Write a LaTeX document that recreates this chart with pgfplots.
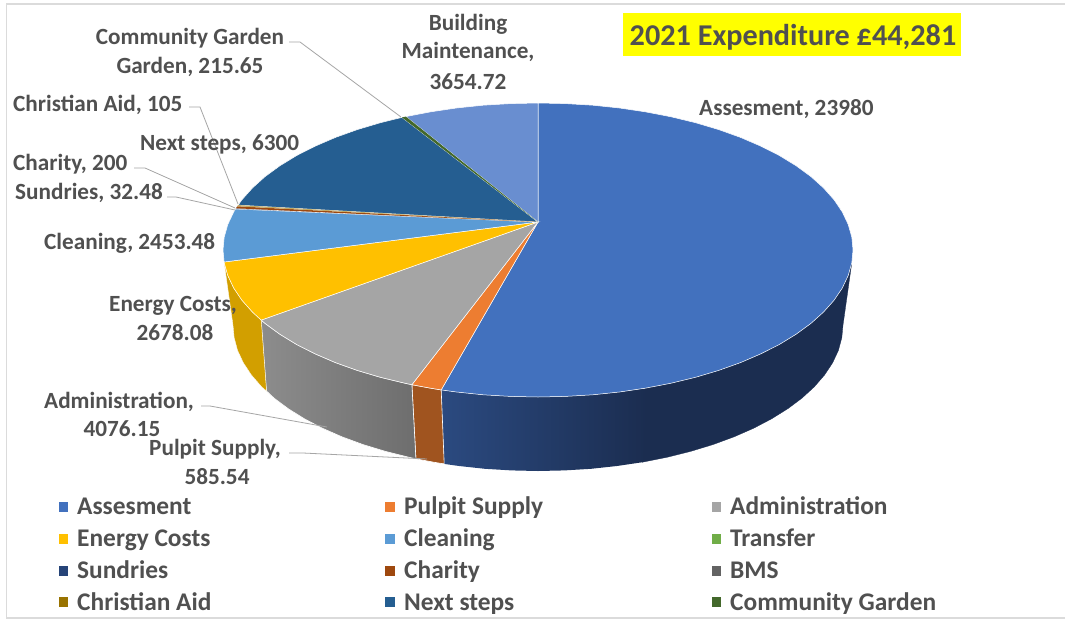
\documentclass[border=0pt]{standalone}
\usepackage{pgfplots}
\pgfplotsset{compat=1.18}
\usepackage{fontspec}
\setmainfont{Carlito}[BoldFont=Carlito Bold]
\definecolor{cA}{HTML}{4271BE}
\definecolor{cP}{HTML}{ED7D31}
\definecolor{cM}{HTML}{A5A5A5}
\definecolor{cE}{HTML}{FFC000}
\definecolor{cC}{HTML}{5B9BD5}
\definecolor{cT}{HTML}{70AD47}
\definecolor{cS}{HTML}{264478}
\definecolor{cH}{HTML}{9E480E}
\definecolor{cB}{HTML}{636363}
\definecolor{cX}{HTML}{997300}
\definecolor{cN}{HTML}{255E91}
\definecolor{cG}{HTML}{43682B}
\definecolor{cU}{HTML}{698ED0}
\definecolor{sL}{HTML}{2B4A80}
\definecolor{sD}{HTML}{1B2D50}
\definecolor{sP}{HTML}{A0541F}
\definecolor{sE}{HTML}{D29F00}
\definecolor{ybox}{HTML}{FFFF00}
\definecolor{txt}{HTML}{505050}
\definecolor{lead}{HTML}{A6A6A6}
\newcommand{\lab}[3]{\node[anchor=base west,inner sep=0pt,text=txt,font=\fontsize{23.2}{27}\selectfont\bfseries] at (axis cs:#1,#2) {#3};}
\newcommand{\clab}[3]{\node[anchor=base,inner sep=0pt,text=txt,font=\fontsize{23.2}{27}\selectfont\bfseries] at (axis cs:#1,#2) {#3};}
\newcommand{\leg}[3]{\node[anchor=base west,inner sep=0pt,text=txt,font=\fontsize{25.4}{29}\selectfont\bfseries] at (axis cs:#1,#2) {#3};}
\begin{document}
\begin{tikzpicture}
\begin{axis}[scale only axis,width=1065pt,height=619pt,xmin=0,xmax=1065,ymin=0,ymax=619,y dir=reverse,hide axis,no markers,clip=true]
% background and frame
\addplot[fill=white,draw=none] coordinates {(0,0)(1065,0)(1065,619)(0,619)} --cycle;
\addplot[draw=black!14,line width=1.5pt] coordinates {(1065,4)(6.5,4)(6.5,618)(1065,618)};
% side faces
\addplot[fill=sD,draw=sD,line width=.3pt] coordinates {(851.8,262.8)(848.2,275.5)(842.3,288)(834,300.3)(823.5,312.1)(810.8,323.5)(796,334.3)(779.3,344.5)(760.7,353.9)(740.5,362.6)(718.7,370.4)(695.5,377.3)(671.1,383.2)(645.7,388.1)(642.3,462.2)(666.9,457.3)(690.5,451.4)(712.9,444.6)(734.1,436.8)(753.7,428.2)(771.6,418.8)(787.8,408.7)(802.1,398)(814.4,386.7)(824.6,374.9)(832.6,362.8)(838.4,350.4)(841.8,337.7)(843,325)} --cycle;
\addplot[draw=none,left color=sL,right color=sD] coordinates {(646.5,388.1)(619.5,392)(592.7,394.8)(565.5,396.4)(538,397)(510.5,396.4)(483.3,394.8)(456.5,392)(441.2,389.9)(444.2,463.9)(459.1,466)(485,468.8)(511.4,470.4)(538,471)(564.6,470.4)(591,468.8)(616.9,466)(643.2,462.1)} --cycle;
\addplot[fill=sP,draw=white,line width=.6pt] coordinates {(441.2,389.9)(430.3,388.1)(411.9,384.7)(415.9,458.8)(433.7,462.2)(444.2,463.9)} --cycle;
\addplot[draw=white,line width=.6pt,left color=black!45,right color=black!57] coordinates {(411.9,384.7)(404.9,383.2)(380.5,377.3)(357.3,370.4)(335.5,362.6)(315.3,353.9)(296.7,344.5)(280,334.3)(265.2,323.5)(261.2,320.1)(266.5,391)(273.9,398)(288.2,408.7)(304.4,418.8)(322.3,428.2)(341.9,436.8)(363.1,444.6)(385.5,451.4)(409.1,457.3)(415.9,458.8)} --cycle;
\addplot[fill=sE,draw=white,line width=.3pt] coordinates {(261.2,320.1)(252.5,312.1)(242,300.3)(233.7,288)(227.8,275.5)(224.2,262.8)(233,325)(234.2,337.7)(237.6,350.4)(243.4,362.8)(251.4,374.9)(261.6,386.7)(266.5,391)} --cycle;
% top faces
\addplot[fill=cA,draw=white,line width=.5pt] coordinates {(538,222)(538,103)(565.5,103.6)(592.7,105.2)(619.5,108)(645.7,111.9)(671.1,116.8)(695.5,122.7)(718.7,129.6)(740.5,137.4)(760.7,146.1)(779.3,155.5)(796,165.7)(810.8,176.5)(823.5,187.9)(834,199.7)(842.3,212)(848.2,224.5)(851.8,237.2)(853,250)(851.8,262.8)(848.2,275.5)(842.3,288)(834,300.3)(823.5,312.1)(810.8,323.5)(796,334.3)(779.3,344.5)(760.7,353.9)(740.5,362.6)(718.7,370.4)(695.5,377.3)(671.1,383.2)(645.7,388.1)(619.5,392)(592.7,394.8)(565.5,396.4)(538,397)(510.5,396.4)(483.3,394.8)(456.5,392)(441.2,389.9)} --cycle;
\addplot[fill=cP,draw=white,line width=.5pt] coordinates {(538,222)(441.2,389.9)(430.3,388.1)(411.9,384.7)} --cycle;
\addplot[fill=cM,draw=white,line width=.5pt] coordinates {(538,222)(411.9,384.7)(404.9,383.2)(380.5,377.3)(357.3,370.4)(335.5,362.6)(315.3,353.9)(296.7,344.5)(280,334.3)(265.2,323.5)(261.2,320.1)} --cycle;
\addplot[fill=cE,draw=white,line width=.5pt] coordinates {(538,222)(261.2,320.1)(252.5,312.1)(242,300.3)(233.7,288)(227.8,275.5)(224.2,262.8)(224.1,262)} --cycle;
\addplot[fill=cC,draw=white,line width=.5pt] coordinates {(538,222)(224.1,262)(223,250)(224.2,237.2)(227.8,224.5)(233.7,212)(235.5,209)} --cycle;
\addplot[fill=cS,draw=white,line width=.2pt] coordinates {(538,222)(235.5,209)(236,208.3)} --cycle;
\addplot[fill=cN,draw=white,line width=.5pt] coordinates {(538,222)(238.1,205.1)(242,199.7)(252.5,187.9)(265.2,176.5)(280,165.7)(296.7,155.5)(315.3,146.1)(335.5,137.4)(357.3,129.6)(380.5,122.7)(401.9,117.4)} --cycle;
\addplot[fill=cH,draw=none] coordinates {(538,222)(236,208.3)(237.2,206.3)} --cycle;
\addplot[fill=cX!60!white,draw=none] coordinates {(538,222)(237.2,206.3)(238.1,205.1)} --cycle;
\addplot[fill=cU,draw=white,line width=.5pt] coordinates {(538,222)(405.9,116.6)(430.3,111.9)(456.5,108)(483.3,105.2)(510.5,103.6)(538,103)} --cycle;
\addplot[fill=cG,draw=none] coordinates {(538,222)(401.9,117.4)(404.9,116.8)(405.9,116.6)} --cycle;
% leader lines
\addplot[draw=lead,line width=.8pt] coordinates {(289,42)(300,42)(401,117)};
\addplot[draw=lead,line width=.8pt] coordinates {(189,107)(200,107)(238,204)};
\addplot[draw=lead,line width=.8pt] coordinates {(134,168)(145,168)(235,208)};
\addplot[draw=lead,line width=.8pt] coordinates {(167,197)(176,197)(235,210)};
\addplot[draw=lead,line width=.8pt] coordinates {(201,406)(210,406)(327,427)};
\addplot[draw=lead,line width=.8pt] coordinates {(289,453)(303,453)(427,459)};
% title box
\addplot[fill=ybox,draw=none] coordinates {(623,13)(960.5,13)(960.5,56)(623,56)} --cycle;
\node[anchor=base,inner sep=0pt,text=txt,font=\fontsize{30.2}{35}\selectfont\bfseries] at (axis cs:793,45) {2021 Expenditure £44,281};
% data labels
\clab{468}{30}{Building}
\clab{468}{58}{Maintenance,}
\clab{468}{89}{3654.72}
\clab{190}{44}{Community Garden}
\clab{190}{73}{Garden, 215.65}
\lab{13}{111}{Christian Aid, 105}
\lab{140}{150}{Next steps, 6300}
\lab{13}{170}{Charity, 200}
\lab{15}{199}{Sundries, 32.48}
\lab{44}{249}{Cleaning, 2453.48}
\lab{109}{311}{Energy Costs,}
\clab{175}{340}{2678.08}
\lab{44}{408}{Administration,}
\clab{122}{436}{4076.15}
\lab{149}{455}{Pulpit Supply,}
\clab{217}{484}{585.54}
\lab{699}{115}{Assesment, 23980}
% legend keys
\addplot[fill=cA,draw=none] coordinates {(59,502)(68,502)(68,512)(59,512)} --cycle;
\addplot[fill=cP,draw=none] coordinates {(385,502)(395,502)(395,512)(385,512)} --cycle;
\addplot[fill=cM,draw=none] coordinates {(712,502)(721,502)(721,512)(712,512)} --cycle;
\addplot[fill=cE,draw=none] coordinates {(59,534)(68,534)(68,544)(59,544)} --cycle;
\addplot[fill=cC,draw=none] coordinates {(385,534)(395,534)(395,544)(385,544)} --cycle;
\addplot[fill=cT,draw=none] coordinates {(712,534)(721,534)(721,544)(712,544)} --cycle;
\addplot[fill=cS,draw=none] coordinates {(59,566)(68,566)(68,576)(59,576)} --cycle;
\addplot[fill=cH,draw=none] coordinates {(385,566)(395,566)(395,576)(385,576)} --cycle;
\addplot[fill=cB,draw=none] coordinates {(712,566)(721,566)(721,576)(712,576)} --cycle;
\addplot[fill=cX,draw=none] coordinates {(59,597)(68,597)(68,607)(59,607)} --cycle;
\addplot[fill=cN,draw=none] coordinates {(385,597)(395,597)(395,607)(385,607)} --cycle;
\addplot[fill=cG,draw=none] coordinates {(712,597)(721,597)(721,607)(712,607)} --cycle;
\leg{77}{514}{Assesment}
\leg{404}{514}{Pulpit Supply}
\leg{730}{514}{Administration}
\leg{77}{546}{Energy Costs}
\leg{404}{546}{Cleaning}
\leg{730}{546}{Transfer}
\leg{77}{578}{Sundries}
\leg{404}{578}{Charity}
\leg{730}{578}{BMS}
\leg{77}{610}{Christian Aid}
\leg{404}{610}{Next steps}
\leg{730}{610}{Community Garden}
\end{axis}
\end{tikzpicture}
\end{document}
